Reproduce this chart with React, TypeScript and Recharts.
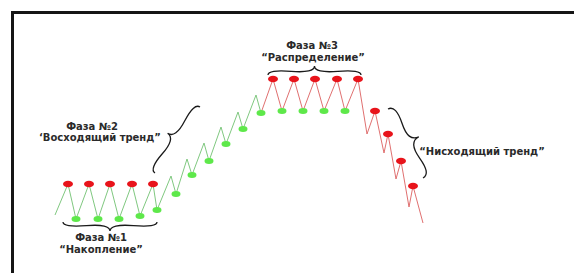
import {
  ComposedChart,
  Scatter,
  XAxis,
  YAxis,
  ReferenceLine,
  ReferenceDot,
} from "recharts";

type Pt = { t: number; p: number; dot?: "top" | "bottom" };

// price path, phase by phase (t = time, p = price)
const accumulation: Pt[] = [
  { t: 55, p: 58 },
  { t: 68, p: 89, dot: "top" },
  { t: 76, p: 54, dot: "bottom" },
  { t: 89, p: 89, dot: "top" },
  { t: 98, p: 54, dot: "bottom" },
  { t: 110, p: 89, dot: "top" },
  { t: 119, p: 54, dot: "bottom" },
  { t: 132, p: 89, dot: "top" },
  { t: 140, p: 57, dot: "bottom" },
  { t: 153, p: 89, dot: "top" },
  { t: 157, p: 63, dot: "bottom" },
];

const uptrend: Pt[] = [
  { t: 171, p: 97 },
  { t: 176, p: 79, dot: "bottom" },
  { t: 187, p: 114 },
  { t: 192, p: 98, dot: "bottom" },
  { t: 204, p: 130 },
  { t: 209, p: 112, dot: "bottom" },
  { t: 221, p: 146 },
  { t: 226, p: 129, dot: "bottom" },
  { t: 238, p: 161 },
  { t: 243, p: 144, dot: "bottom" },
  { t: 256, p: 178 },
  { t: 261, p: 160, dot: "bottom" },
];

const distribution: Pt[] = [
  { t: 273, p: 194, dot: "top" },
  { t: 282, p: 162, dot: "bottom" },
  { t: 294, p: 194, dot: "top" },
  { t: 303, p: 162, dot: "bottom" },
  { t: 315, p: 194, dot: "top" },
  { t: 324, p: 162, dot: "bottom" },
  { t: 337, p: 194, dot: "top" },
  { t: 345, p: 162, dot: "bottom" },
  { t: 358, p: 194, dot: "top" },
];

const downtrend: Pt[] = [
  { t: 367, p: 139 },
  { t: 375, p: 162, dot: "top" },
  { t: 384, p: 120 },
  { t: 388, p: 139, dot: "top" },
  { t: 396, p: 94 },
  { t: 401, p: 112, dot: "top" },
  { t: 409, p: 66 },
  { t: 413, p: 87, dot: "top" },
  { t: 423, p: 50 },
];

const titles = ["Фаза №1", "Фаза №2", "Фаза №3"];
const names = [
  "“Накопление”",
  "‘Восходящий тренд”",
  "“Распределение”",
  "“Нисходящий тренд”",
];

const bullPath = [...accumulation, ...uptrend];
const bearPath = [uptrend[uptrend.length - 1], ...distribution, ...downtrend];
const allPoints = [...accumulation, ...uptrend, ...distribution, ...downtrend];
const tops = allPoints.filter((d) => d.dot === "top");
const bottoms = allPoints.filter((d) => d.dot === "bottom");

// curly brace between two pixel points, w = depth (sign picks the side)
function bracePath(x1: number, y1: number, x2: number, y2: number, w: number, q = 0.6) {
  let dx = x1 - x2;
  let dy = y1 - y2;
  const len = Math.sqrt(dx * dx + dy * dy);
  dx /= len;
  dy /= len;
  const qx1 = x1 + q * w * dy;
  const qy1 = y1 - q * w * dx;
  const qx2 = x1 - 0.25 * len * dx + (1 - q) * w * dy;
  const qy2 = y1 - 0.25 * len * dy - (1 - q) * w * dx;
  const tx = x1 - 0.5 * len * dx + w * dy;
  const ty = y1 - 0.5 * len * dy - w * dx;
  const qx3 = x2 + q * w * dy;
  const qy3 = y2 - q * w * dx;
  const qx4 = x1 - 0.75 * len * dx + (1 - q) * w * dy;
  const qy4 = y1 - 0.75 * len * dy - (1 - q) * w * dx;
  return `M ${x1} ${y1} Q ${qx1} ${qy1} ${qx2} ${qy2} T ${tx} ${ty} M ${x2} ${y2} Q ${qx3} ${qy3} ${qx4} ${qy4} T ${tx} ${ty}`;
}

const braces = [
  { a: { x: 63, y: 51 }, b: { x: 157, y: 51 }, w: 9 },
  { a: { x: 200, y: 166 }, b: { x: 155, y: 100 }, w: 12 },
  { a: { x: 268, y: 198 }, b: { x: 361, y: 198 }, w: -9 },
  { a: { x: 388, y: 164 }, b: { x: 423, y: 95 }, w: -15 },
];

const notes = [
  { x: 101, y: 36, text: titles[0] },
  { x: 101, y: 24, text: names[0] },
  { x: 92, y: 147, text: titles[1] },
  { x: 100, y: 136, text: names[1] },
  { x: 312, y: 228, text: titles[2] },
  { x: 313, y: 216, text: names[2] },
  { x: 482, y: 122, text: names[3] },
];

const redDot = (props: any) => (
  <ellipse cx={props.cx} cy={props.cy} rx={5} ry={3.3} fill="#e8141b" />
);
const greenDot = (props: any) => (
  <ellipse cx={props.cx} cy={props.cy} rx={4.5} ry={3} fill="#5ee84a" />
);
const noDot = () => <g />;

export default function App() {
  return (
    <div style={{ position: "relative", width: 574, height: 273, overflow: "hidden", background: "#fff" }}>
      <style>{"body{margin:0}"}</style>
      <div
        style={{
          position: "absolute",
          left: 11,
          top: 11,
          width: 600,
          height: 300,
          borderTop: "3px solid #151515",
          borderLeft: "3px solid #151515",
        }}
      />
      <div style={{ position: "absolute", left: 0, top: 0 }}>
        <ComposedChart width={574} height={273} margin={{ top: 0, right: 0, bottom: 0, left: 0 }}>
          <XAxis type="number" dataKey="t" domain={[0, 574]} hide />
          <YAxis type="number" dataKey="p" domain={[0, 273]} hide />
          <Scatter
            data={bullPath}
            dataKey="p"
            line={{ stroke: "#80c880", strokeWidth: 1 }}
            lineType="joint"
            shape={noDot}
            isAnimationActive={false}
          />
          <Scatter
            data={bearPath}
            dataKey="p"
            line={{ stroke: "#e07070", strokeWidth: 1 }}
            lineType="joint"
            shape={noDot}
            isAnimationActive={false}
          />
          <Scatter data={tops} dataKey="p" shape={redDot} isAnimationActive={false} />
          <Scatter data={bottoms} dataKey="p" shape={greenDot} isAnimationActive={false} />
          {braces.map((br, i) => (
            <ReferenceLine
              key={`brace-${i}`}
              segment={[br.a, br.b]}
              ifOverflow="visible"
              shape={(props: any) => (
                <path
                  d={bracePath(props.x1, props.y1, props.x2, props.y2, br.w)}
                  fill="none"
                  stroke="#1a1a1a"
                  strokeWidth={1.3}
                />
              )}
            />
          ))}
          {notes.map((n, i) => (
            <ReferenceDot
              key={`note-${i}`}
              x={n.x}
              y={n.y}
              r={0}
              ifOverflow="visible"
              shape={(props: any) => (
                <text
                  x={props.cx}
                  y={props.cy}
                  textAnchor="middle"
                  dominantBaseline="central"
                  fontFamily="DejaVu Sans, Verdana, sans-serif"
                  fontWeight="bold"
                  fontSize={10}
                  fill="#2a2a2a"
                >
                  {n.text}
                </text>
              )}
            />
          ))}
        </ComposedChart>
      </div>
    </div>
  );
}
